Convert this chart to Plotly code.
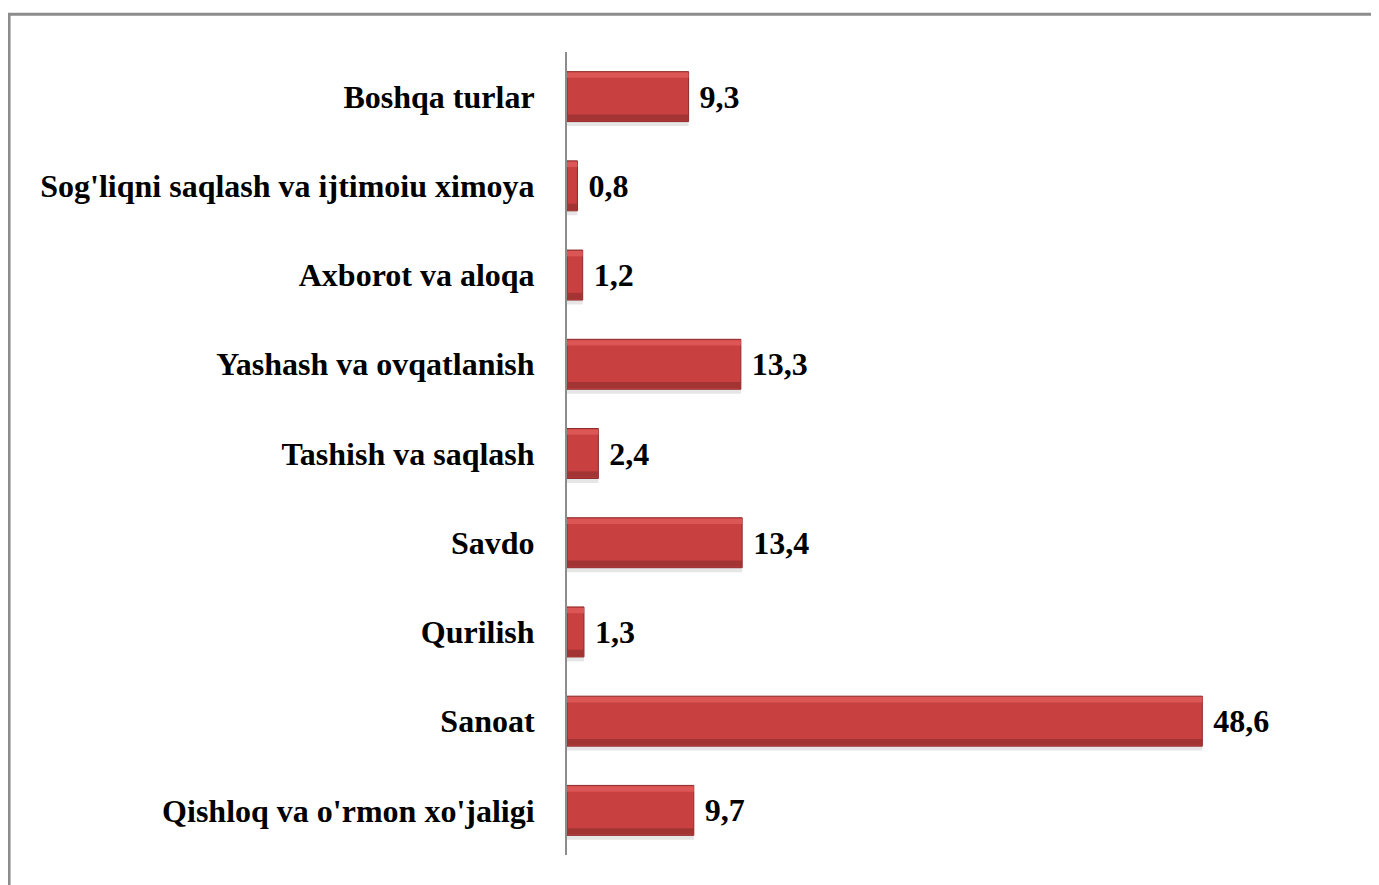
import plotly.graph_objects as go

# tarmoqlar (pastdan yuqoriga)
categories = [
    "Qishloq va o'rmon xo'jaligi",
    "Sanoat",
    "Qurilish",
    "Savdo",
    "Tashish va saqlash",
    "Yashash va ovqatlanish",
    "Axborot va aloqa",
    "Sog'liqni saqlash va ijtimoiu ximoya",
    "Boshqa turlar",
]
values = [9.7, 48.6, 1.3, 13.4, 2.4, 13.3, 1.2, 0.8, 9.3]
labels = [" " + f"{v:.1f}".replace(".", ",") for v in values]

font_serif = "Liberation Serif, Times New Roman, serif"

fig = go.Figure()
# soya
fig.add_trace(go.Bar(
    x=values, y=categories, orientation="h",
    marker=dict(color="#e6e6e6", line=dict(width=0)),
    width=0.05, offset=-0.33, hoverinfo="skip",
))
# asosiy ustun
fig.add_trace(go.Bar(
    x=values, y=categories, orientation="h",
    text=labels, textposition="outside", cliponaxis=False,
    textfont=dict(family=font_serif, size=32, color="black", weight="bold"),
    marker=dict(color="#C84040", line=dict(color="#8E2A2A", width=1)),
    width=0.56, offset=-0.28,
))
# yuqori yorug' chiziq
fig.add_trace(go.Bar(
    x=values, y=categories, orientation="h",
    marker=dict(color="#DC5656", line=dict(width=0)),
    width=0.06, offset=0.21, hoverinfo="skip",
))
# pastki qorong'i chiziq
fig.add_trace(go.Bar(
    x=values, y=categories, orientation="h",
    marker=dict(color="#A33434", line=dict(width=0)),
    width=0.07, offset=-0.27, hoverinfo="skip",
))

fig.update_layout(
    width=1379, height=885,
    margin=dict(l=559, r=101, t=44, b=38),
    plot_bgcolor="white", paper_bgcolor="white",
    showlegend=False, barmode="overlay",
    xaxis=dict(range=[0, 55], visible=False),
    yaxis=dict(
        showline=True, linecolor="#8c8c8c", linewidth=2,
        ticks="", showgrid=False, ticklabelstandoff=24,
        tickfont=dict(family=font_serif, size=32, color="black", weight="bold"),
    ),
)

# ramka
fig.add_shape(type="rect", xref="paper", yref="paper",
              x0=-0.776, x1=1.2, y0=-0.2, y1=1.047,
              line=dict(color="#8c8c8c", width=3), layer="below")

fig.write_html("out.html")
